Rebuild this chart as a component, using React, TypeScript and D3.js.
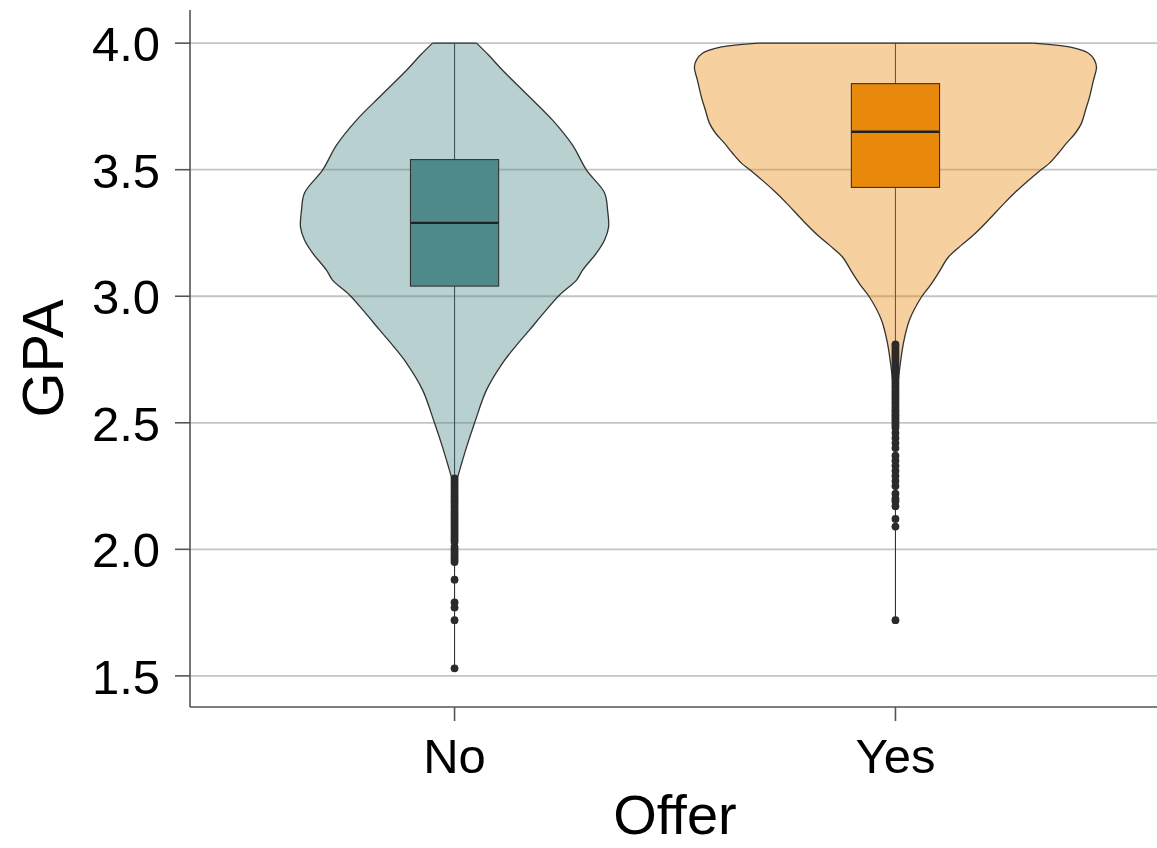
import React from "react";
import * as d3 from "d3";

// ---- Data ----
const categories = ["No", "Yes"];
const colors = ["#4E8A8A", "#E8890C"];
const yTicks = [1.5, 2.0, 2.5, 3.0, 3.5, 4.0];
const yLimits = [1.377, 4.131];

// box statistics
const noBox = { q1: 3.04, median: 3.29, q3: 3.54, max: 4.0 };
const yesBox = { q1: 3.43, median: 3.65, q3: 3.84, max: 4.0 };

// violin density profile (GPA, relative density)
const noViolinGPA = [4.0, 3.953, 3.893, 3.795, 3.696, 3.597, 3.498, 3.408, 3.34, 3.273, 3.222, 3.171, 3.103, 3.064, 3.005, 2.938, 2.867, 2.807, 2.736, 2.63, 2.499, 2.404, 2.325, 2.27];
const noViolinDensity = [0.22, 0.34, 0.48, 0.73, 0.98, 1.18, 1.32, 1.5, 1.53, 1.54, 1.5, 1.42, 1.28, 1.22, 1.05, 0.9, 0.75, 0.62, 0.48, 0.32, 0.2, 0.12, 0.06, 0.02];

const yesViolinGPA = [4.0, 3.984, 3.96, 3.933, 3.905, 3.854, 3.787, 3.735, 3.684, 3.645, 3.605, 3.566, 3.526, 3.498, 3.408, 3.36, 3.301, 3.242, 3.202, 3.155, 3.092, 3.044, 2.997, 2.906, 2.815, 2.708, 2.61];
const yesViolinDensity = [1.37, 1.75, 1.93, 1.99, 2.01, 1.98, 1.94, 1.9, 1.86, 1.8, 1.71, 1.63, 1.54, 1.45, 1.19, 1.07, 0.93, 0.78, 0.66, 0.53, 0.43, 0.35, 0.26, 0.14, 0.08, 0.04, 0.01];

// outliers
const noOutliers = [2.28, 2.27, 2.26, 2.25, 2.24, 2.23, 2.22, 2.21, 2.2, 2.19, 2.18, 2.17, 2.16, 2.15, 2.14, 2.13, 2.12, 2.11, 2.1, 2.09, 2.08, 2.07, 2.06, 2.05, 2.04, 2.03, 2.01, 2.0, 1.99, 1.98, 1.97, 1.96, 1.95, 1.88, 1.79, 1.77, 1.72, 1.53];
const yesOutliers = [2.81, 2.8, 2.79, 2.78, 2.77, 2.76, 2.75, 2.74, 2.73, 2.72, 2.71, 2.7, 2.69, 2.68, 2.67, 2.66, 2.65, 2.64, 2.63, 2.62, 2.61, 2.6, 2.59, 2.58, 2.57, 2.56, 2.55, 2.54, 2.53, 2.52, 2.51, 2.5, 2.49, 2.48, 2.46, 2.44, 2.42, 2.4, 2.37, 2.35, 2.33, 2.31, 2.29, 2.27, 2.25, 2.22, 2.2, 2.19, 2.17, 2.12, 2.09, 1.72];

const groups = [
  { name: categories[0], color: colors[0], box: noBox, gpa: noViolinGPA, dens: noViolinDensity, out: noOutliers },
  { name: categories[1], color: colors[1], box: yesBox, gpa: yesViolinGPA, dens: yesViolinDensity, out: yesOutliers },
];

const W = 1157;
const H = 848;
const FONT = "'Liberation Sans', Arial, Helvetica, sans-serif";

export default function App() {
  const left = 190, right = 1160, top = 10, bottom = 707;
  const x = d3.scalePoint<string>().domain(categories).range([left, right]).padding(0.6);
  const step = x.step();
  const y = d3.scaleLinear().domain(yLimits).range([bottom, top]);
  const maxDens = d3.max([...noViolinDensity, ...yesViolinDensity]) as number;
  const w = d3.scaleLinear().domain([0, maxDens]).range([0, 0.456 * step]);
  const boxHalf = 0.1 * step;

  return (
    <svg width={W} height={H} style={{ position: "absolute", left: 0, top: 0, background: "#fff" }} fontFamily={FONT}>
      {/* gridlines */}
      {yTicks.map((t) => (
        <line key={"g" + t} x1={left} x2={W} y1={y(t)} y2={y(t)} stroke="#c4c4c4" strokeWidth={1.8} />
      ))}
      {groups.map((g) => {
        const cx = x(g.name) as number;
        const pts = g.gpa.map((v, i) => ({ v, d: g.dens[i] }));
        const area = d3
          .area<{ v: number; d: number }>()
          .y((d) => y(d.v))
          .x0((d) => cx - w(d.d))
          .x1((d) => cx + w(d.d))
          .curve(d3.curveCatmullRom);
        const outline = d3.line<[number, number]>().curve(d3.curveCatmullRom);
        const leftSide: [number, number][] = pts.map((d) => [cx - w(d.d), y(d.v)]);
        const rightSide: [number, number][] = pts.map((d) => [cx + w(d.d), y(d.v)]);
        const minV = d3.min(g.out) as number;
        return (
          <g key={g.name}>
            <line x1={cx} x2={cx} y1={y(g.box.max)} y2={y(minV)} stroke="#333" strokeWidth={1.1} />
            <path d={area(pts) || ""} fill={g.color} fillOpacity={0.4} stroke="none" />
            <path d={outline(leftSide) || ""} fill="none" stroke="#333" strokeWidth={1.3} />
            <path d={outline(rightSide) || ""} fill="none" stroke="#333" strokeWidth={1.3} />
            <line x1={cx - w(g.dens[0])} x2={cx + w(g.dens[0])} y1={y(g.gpa[0])} y2={y(g.gpa[0])} stroke="#333" strokeWidth={1.3} />
            <rect
              x={cx - boxHalf}
              width={2 * boxHalf}
              y={y(g.box.q3)}
              height={y(g.box.q1) - y(g.box.q3)}
              fill={g.color}
              stroke="#333"
              strokeWidth={1.1}
            />
            <line x1={cx - boxHalf} x2={cx + boxHalf} y1={y(g.box.median)} y2={y(g.box.median)} stroke="#222" strokeWidth={2.4} />
            {g.out.map((o, i) => (
              <circle key={i} cx={cx} cy={y(o)} r={3.9} fill="#2b2b2b" />
            ))}
          </g>
        );
      })}
      {/* axes */}
      <line x1={left} x2={left} y1={top} y2={bottom} stroke="#555" strokeWidth={1.6} />
      <line x1={left} x2={W} y1={bottom} y2={bottom} stroke="#555" strokeWidth={1.6} />
      {yTicks.map((t) => (
        <g key={"t" + t}>
          <line x1={left - 15} x2={left} y1={y(t)} y2={y(t)} stroke="#555" strokeWidth={1.6} />
          <text x={left - 30} y={y(t) + 18} textAnchor="end" fontSize={49} fill="#000">
            {t.toFixed(1)}
          </text>
        </g>
      ))}
      {categories.map((c) => (
        <g key={"x" + c}>
          <line x1={x(c)} x2={x(c)} y1={bottom} y2={bottom + 14} stroke="#555" strokeWidth={1.6} />
          <text x={x(c)} y={773} textAnchor="middle" fontSize={49} fill="#000">
            {c}
          </text>
        </g>
      ))}
      <text x={(left + right) / 2} y={834} textAnchor="middle" fontSize={56} fill="#000">
        Offer
      </text>
      <text transform={`translate(63, ${(top + bottom) / 2}) rotate(-90)`} textAnchor="middle" fontSize={58} fill="#000">
        GPA
      </text>
    </svg>
  );
}
